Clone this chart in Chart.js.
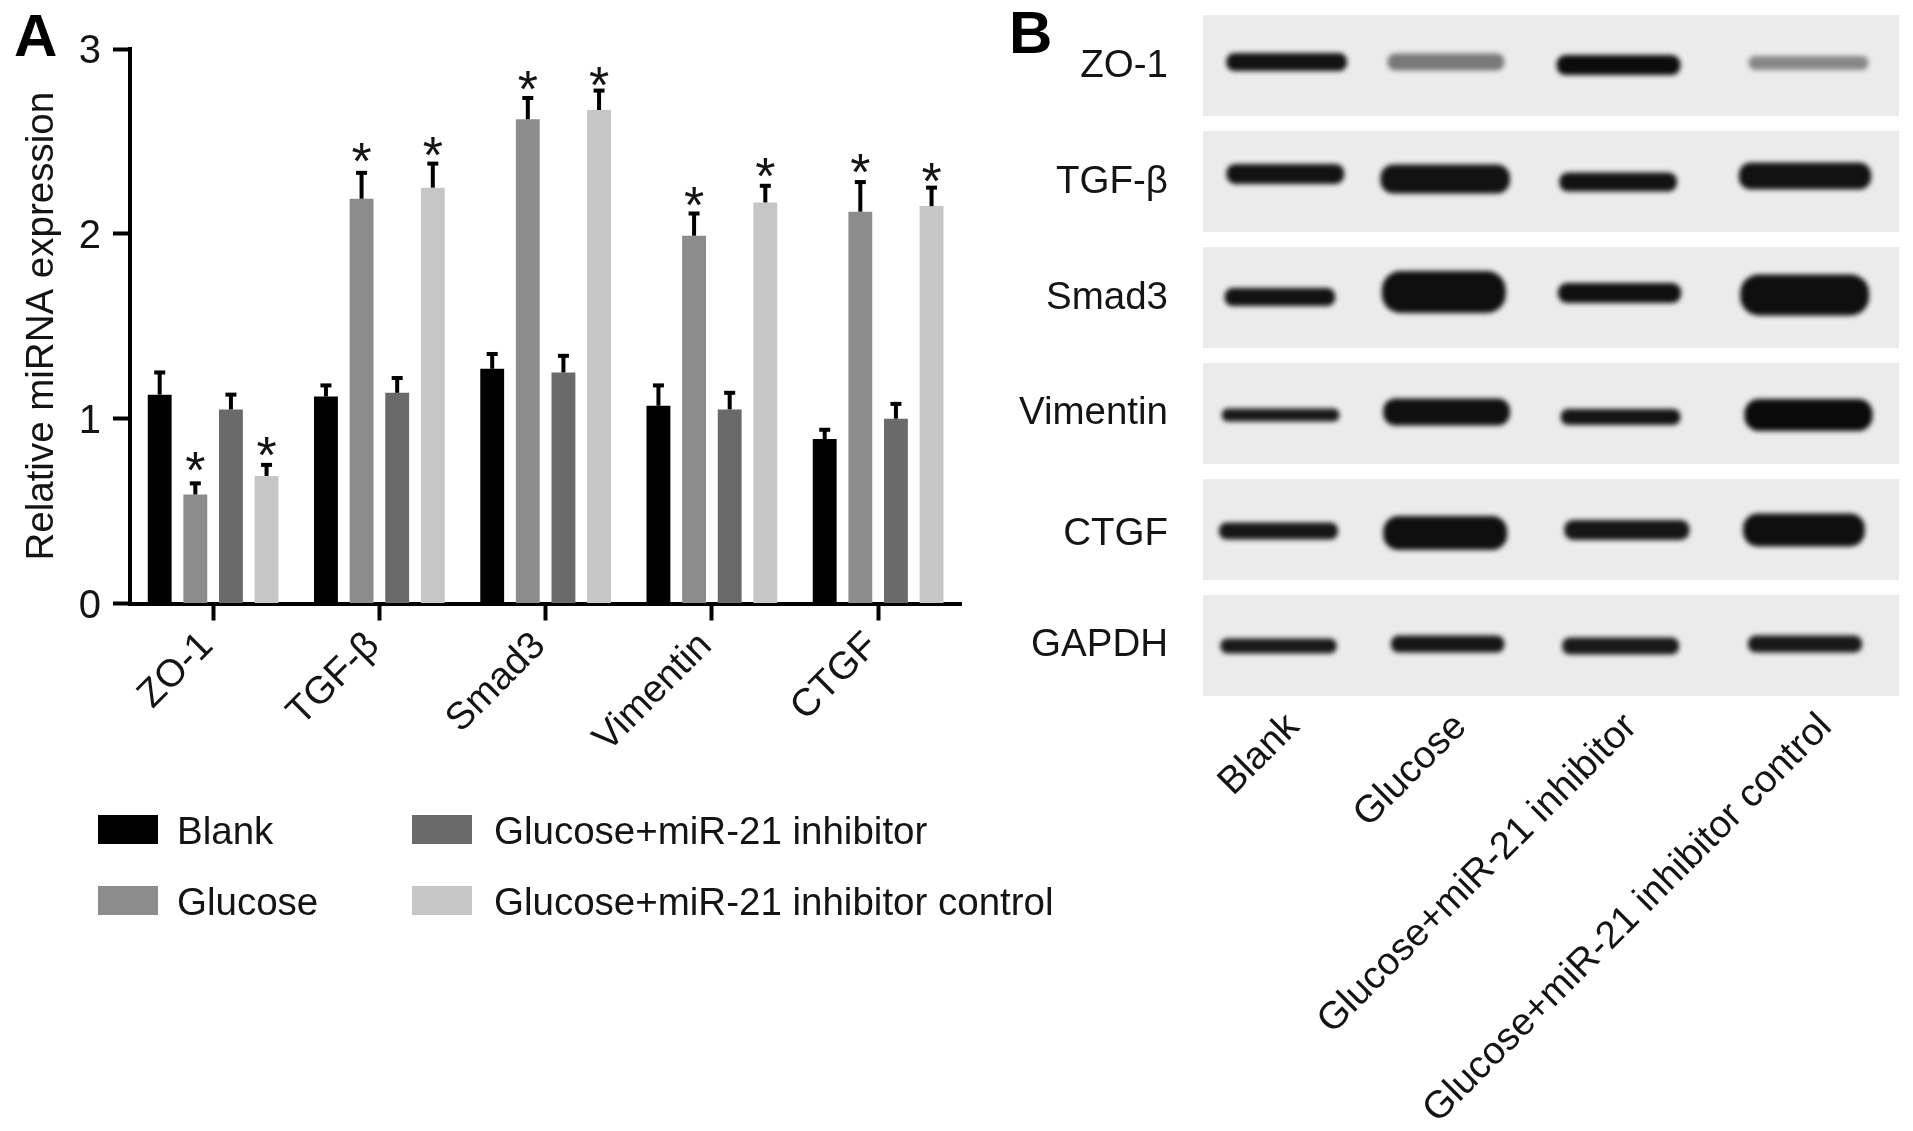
<!DOCTYPE html>
<html>
<head>
<meta charset="utf-8">
<title>miRNA expression and western blot</title>
<script src="https://cdn.jsdelivr.net/npm/chart.js@4"></script>
<style>
  html, body { margin: 0; padding: 0; background: #fff; }
  #page { position: relative; width: 1913px; height: 1131px; overflow: hidden; font-family: "Liberation Sans", sans-serif; color: #141414; filter: blur(0.5px); }
  #page canvas { position: absolute; top: 0; }
  #barCanvas { left: 0; }
  #page #blotCanvas { left: 1000px; top: -50px; }
  .panel-letter { position: absolute; font-size: 60px; font-weight: bold; line-height: 60px; color: #000; }
  .legend-item { position: absolute; height: 30px; font-size: 38.5px; line-height: 30px; white-space: nowrap; }
  .legend-item i { position: absolute; left: 0; top: 0; width: 60px; height: 29px; }
  .legend-item span { position: absolute; top: 1px; }
</style>
</head>
<body>
<div id="page">
  <canvas id="barCanvas" width="1000" height="1131"></canvas>
  <canvas id="blotCanvas" width="913" height="1181"></canvas>
  <div class="panel-letter" style="left:14px;top:6px">A</div>
  <div class="panel-letter" style="left:1009px;top:3px">B</div>
  <div id="legend"></div>
</div>
<script>
// ---------- PANEL A DATA ----------
const genes = ['ZO-1', 'TGF-β', 'Smad3', 'Vimentin', 'CTGF'];
const groups = ['Blank', 'Glucose', 'Glucose+miR-21 inhibitor', 'Glucose+miR-21 inhibitor control'];
const yTicks = [0, 1, 2, 3];

const blankValues = [1.13, 1.12, 1.27, 1.07, 0.89];
const glucoseValues = [0.59, 2.19, 2.62, 1.99, 2.12];
const inhibitorValues = [1.05, 1.14, 1.25, 1.05, 1.00];
const controlValues = [0.69, 2.25, 2.67, 2.17, 2.15];

const blankErrors = [0.12, 0.06, 0.08, 0.11, 0.05];
const glucoseErrors = [0.06, 0.14, 0.115, 0.12, 0.16];
const inhibitorErrors = [0.08, 0.08, 0.09, 0.09, 0.08];
const controlErrors = [0.06, 0.13, 0.105, 0.09, 0.10];

// height of each asterisk on the y axis, null where there is none
const blankStars = [null, null, null, null, null];
const glucoseStars = [0.762, 2.43, 2.823, 2.194, 2.37];
const inhibitorStars = [null, null, null, null, null];
const controlStars = [0.842, 2.465, 2.845, 2.353, 2.326];

const groupColors = ['#000000', '#8c8c8c', '#6a6a6a', '#c6c6c6'];
const groupValues = [blankValues, glucoseValues, inhibitorValues, controlValues];
const groupErrors = [blankErrors, glucoseErrors, inhibitorErrors, controlErrors];
const groupStars = [blankStars, glucoseStars, inhibitorStars, controlStars];

// ---------- PANEL B DATA (one row per protein, one column per lane) ----------
const proteins = ['ZO-1', 'TGF-β', 'Smad3', 'Vimentin', 'CTGF', 'GAPDH'];
const proteinTicks = [0.51, 1.51, 2.51, 3.5, 4.54, 5.5];

// band extent along the gel, percent of gel width
const bandStart = [
  [3.35, 26.5, 50.8, 78.4],
  [3.35, 25.5, 51.2, 77.0],
  [3.1, 25.7, 51.0, 77.2],
  [2.7, 25.9, 51.4, 77.8],
  [2.3, 25.9, 51.9, 77.6],
  [2.5, 27.0, 51.6, 78.3]
];
const bandEnd = [
  [20.7, 43.3, 68.6, 95.6],
  [20.3, 44.1, 68.1, 96.0],
  [19.0, 43.5, 68.7, 95.7],
  [19.6, 44.1, 68.6, 96.2],
  [19.4, 43.7, 69.9, 95.1],
  [19.2, 43.3, 68.4, 94.7]
];
// band centre and height, in rows
const bandCentre = [
  [0.470, 0.470, 0.496, 0.478],
  [1.435, 1.478, 1.504, 1.453],
  [2.496, 2.453, 2.461, 2.478],
  [3.513, 3.487, 3.530, 3.513],
  [4.513, 4.530, 4.504, 4.504],
  [5.504, 5.487, 5.504, 5.487]
];
const bandHeight = [
  [0.155, 0.147, 0.172, 0.121],
  [0.172, 0.250, 0.164, 0.233],
  [0.155, 0.362, 0.172, 0.353],
  [0.112, 0.233, 0.138, 0.276],
  [0.147, 0.293, 0.172, 0.284],
  [0.129, 0.147, 0.147, 0.147]
];
const bandGrey = [
  [18, 120, 12, 135],
  [18, 18, 18, 18],
  [18, 15, 15, 15],
  [25, 15, 20, 10],
  [22, 15, 22, 15],
  [25, 22, 25, 25]
];
const laneLabelTicks = [13, 37, 61.5, 89.5];

const FONT = '"Liberation Sans", sans-serif';
const TEXT = '#141414';
const ROW_PX = 116;

// ---------- ERROR BARS + ASTERISKS ----------
const errorBarsPlugin = {
  id: 'errorBars',
  afterDatasetsDraw(chart) {
    const { ctx, scales: { y } } = chart;
    ctx.save();
    groupValues.forEach((values, s) => {
      chart.getDatasetMeta(s).data.forEach((bar, i) => {
        const top = y.getPixelForValue(values[i] + groupErrors[s][i]);
        ctx.fillStyle = '#000';
        ctx.fillRect(bar.x - 2, top, 4, bar.y - top);
        ctx.fillRect(bar.x - 5.5, top - 2, 11, 4);
        if (groupStars[s][i] !== null) {
          ctx.font = '52px ' + FONT;
          ctx.textAlign = 'center';
          ctx.fillStyle = TEXT;
          ctx.fillText('*', bar.x, y.getPixelForValue(groupStars[s][i]) + 25);
        }
      });
    });
    ctx.restore();
  }
};

// soft edges on the blot bands only
const bandBlurPlugin = {
  id: 'bandBlur',
  beforeDatasetDraw(chart, args) {
    if (chart.data.datasets[args.index].isBand) {
      chart.ctx.save();
      chart.ctx.filter = 'blur(2.5px)';
    }
  },
  afterDatasetDraw(chart, args) {
    if (chart.data.datasets[args.index].isBand) chart.ctx.restore();
  }
};

// ---------- PANEL A CHART ----------
new Chart(document.getElementById('barCanvas'), {
  type: 'bar',
  plugins: [errorBarsPlugin],
  data: {
    labels: genes,
    datasets: groups.map((name, s) => ({
      label: name,
      data: groupValues[s],
      backgroundColor: groupColors[s],
      categoryPercentage: 0.857,
      barPercentage: 0.67
    }))
  },
  options: {
    responsive: false,
    animation: false,
    layout: { autoPadding: false, padding: { top: 49, right: 38.75, left: 0, bottom: 0 } },
    plugins: { legend: { display: false }, tooltip: { enabled: false } },
    scales: {
      x: {
        z: 1,
        grid: { drawOnChartArea: false, offset: false, tickLength: 17, tickWidth: 4, tickColor: '#000' },
        border: { color: '#000', width: 4 },
        ticks: { autoSkip: false, minRotation: 45, maxRotation: 45, padding: 3, labelOffset: -6, color: TEXT, font: { family: FONT, size: 38.5 } },
        afterFit(scale) { scale.height = 527.5; }
      },
      y: {
        min: 0,
        max: 3,
        grid: { drawOnChartArea: false, tickLength: 17, tickWidth: 4, tickColor: '#000' },
        border: { color: '#000', width: 4 },
        afterBuildTicks(scale) { scale.ticks = yTicks.map(v => ({ value: v })); },
        ticks: { padding: 12, labelOffset: 3, color: TEXT, font: { family: FONT, size: 40 } },
        title: { display: true, text: 'Relative miRNA expression', color: TEXT, padding: { top: 19, bottom: 0 }, font: { family: FONT, size: 38.5 } },
        afterFit(scale) { scale.width = 130; }
      }
    }
  }
});

// ---------- PANEL B CHART ----------
function buildBlotDatasets() {
  const list = [{
    label: 'gel',
    data: proteins.map((p, r) => ({ x: [0, 100], y: r + 0.5 })),
    backgroundColor: '#ebebeb',
    grouped: false,
    barPercentage: 1000,
    maxBarThickness: 101,
    order: 1
  }];
  proteins.forEach((protein, r) => {
    groups.forEach((group, lane) => {
      const h = bandHeight[r][lane] * ROW_PX;
      const g = bandGrey[r][lane];
      list.push({
        label: protein + ' ' + group,
        isBand: true,
        data: [{ x: [bandStart[r][lane], bandEnd[r][lane]], y: bandCentre[r][lane] }],
        backgroundColor: `rgb(${g},${g},${g})`,
        borderRadius: h * 0.45,
        borderSkipped: false,
        grouped: false,
        barPercentage: 1000,
        maxBarThickness: h,
        order: 0
      });
    });
  });
  return list;
}

new Chart(document.getElementById('blotCanvas'), {
  type: 'bar',
  plugins: [bandBlurPlugin],
  data: { datasets: buildBlotDatasets() },
  options: {
    indexAxis: 'y',
    responsive: false,
    animation: false,
    layout: { autoPadding: false, padding: { top: 57.5, right: 14, left: 0, bottom: 0 } },
    plugins: { legend: { display: false }, tooltip: { enabled: false } },
    scales: {
      x: {
        type: 'linear',
        min: 0,
        max: 100,
        grid: { display: false },
        border: { display: false },
        afterBuildTicks(scale) { scale.ticks = laneLabelTicks.map(v => ({ value: v })); },
        ticks: {
          autoSkip: false, minRotation: 45, maxRotation: 45, padding: -7, color: TEXT,
          font: { family: FONT, size: 38.5 },
          callback: (v, i) => groups[i]
        },
        afterFit(scale) { scale.height = 427.5; }
      },
      y: {
        type: 'linear',
        reverse: true,
        offset: false,
        min: 0,
        max: 6,
        grid: { display: false },
        border: { display: false },
        afterBuildTicks(scale) { scale.ticks = proteinTicks.map(v => ({ value: v })); },
        ticks: {
          padding: 27, color: TEXT, font: { family: FONT, size: 38.5 },
          callback: (v, i) => proteins[i]
        },
        afterFit(scale) { scale.width = 203; }
      }
    }
  }
});

// ---------- LEGEND ----------
const legendSlots = [[98, 815, 79], [98, 886, 79], [412, 815, 82], [412, 886, 82]];
document.getElementById('legend').innerHTML = groups.map((name, s) => `
  <div class="legend-item" style="left:${legendSlots[s][0]}px;top:${legendSlots[s][1]}px">
    <i style="background:${groupColors[s]}"></i><span style="left:${legendSlots[s][2]}px">${name}</span>
  </div>
`).join('');
</script>
</body>
</html>
